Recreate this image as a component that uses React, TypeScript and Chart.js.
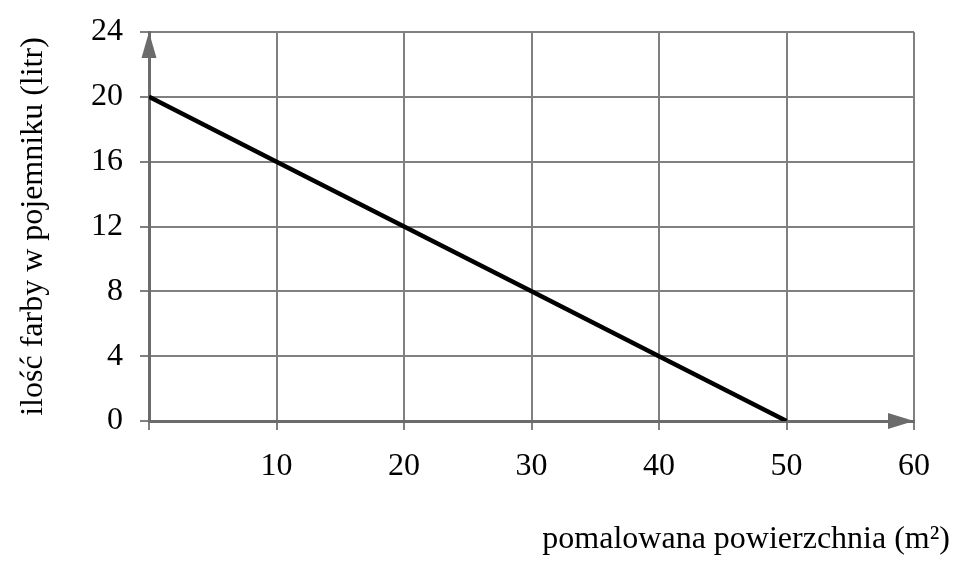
import React, { useEffect, useRef } from "react";
import { Chart, registerables } from "chart.js";

Chart.register(...registerables);

const areaValues = [0, 10, 20, 30, 40, 50];
const paintValues = [20, 16, 12, 8, 4, 0];
const xTitle = "pomalowana powierzchnia (m²)";
const yTitle = "ilość farby w pojemniku (litr)";

const FONT = "'Liberation Serif', 'Times New Roman', serif";
const GRID = "#808080";
const AXIS = "#6b6b6b";

const arrowPlugin = {
  id: "arrows",
  afterDraw(chart: any) {
    const { ctx, scales } = chart;
    const xs = scales.x;
    const ys = scales.y;
    const x0 = xs.getPixelForValue(xs.min);
    const x1 = xs.getPixelForValue(xs.max);
    const y0 = ys.getPixelForValue(ys.min);
    const y1 = ys.getPixelForValue(ys.max);
    ctx.save();
    ctx.fillStyle = AXIS;
    ctx.beginPath();
    ctx.moveTo(x0, y1);
    ctx.lineTo(x0 - 7.5, y1 + 26);
    ctx.lineTo(x0 + 7.5, y1 + 26);
    ctx.closePath();
    ctx.fill();
    ctx.beginPath();
    ctx.moveTo(x1, y0);
    ctx.lineTo(x1 - 26, y0 - 8);
    ctx.lineTo(x1 - 26, y0 + 8);
    ctx.closePath();
    ctx.fill();
    ctx.fillStyle = "#000";
    ctx.font = `32px ${FONT}`;
    ctx.textAlign = "right";
    ctx.textBaseline = "alphabetic";
    ctx.fillText(xTitle, 950, 548);
    ctx.restore();
  },
};

export default function App() {
  const ref = useRef<HTMLCanvasElement | null>(null);
  useEffect(() => {
    if (!ref.current) return;
    const chart = new Chart(ref.current, {
      type: "scatter",
      data: {
        datasets: [
          {
            data: areaValues.map((x, i) => ({ x, y: paintValues[i] })),
            showLine: true,
            borderColor: "#000",
            borderWidth: 4.5,
            pointRadius: 0,
            fill: false,
          },
        ],
      },
      options: {
        animation: false,
        responsive: true,
        maintainAspectRatio: false,
        layout: { padding: { left: 0, right: 46, top: 32, bottom: 0 } },
        plugins: { legend: { display: false }, tooltip: { enabled: false } },
        scales: {
          x: {
            type: "linear",
            min: 0,
            max: 60,
            ticks: {
              stepSize: 10,
              padding: 17,
              color: "#000",
              font: { family: FONT, size: 32 },
              callback: (v: any) => (v === 0 ? "" : String(v)),
              maxRotation: 0,
            },
            grid: { color: GRID, lineWidth: 2, tickLength: 9, tickColor: GRID },
            border: { color: AXIS, width: 3 },
            afterFit: (s: any) => {
              s.height = 155;
            },
          },
          y: {
            type: "linear",
            min: 0,
            max: 24,
            ticks: {
              stepSize: 4,
              padding: 17,
              color: "#000",
              font: { family: FONT, size: 32 },
            },
            grid: { color: GRID, lineWidth: 2, tickLength: 9, tickColor: GRID },
            border: { color: AXIS, width: 3 },
            title: {
              display: true,
              text: yTitle,
              color: "#000",
              font: { family: FONT, size: 32 },
              padding: { top: 14, bottom: 0 },
            },
            afterFit: (s: any) => {
              s.width = 149;
              s.paddingTop = 0;
              s.paddingBottom = 0;
            },
          },
        },
      },
      plugins: [arrowPlugin],
    });
    return () => chart.destroy();
  }, []);
  return (
    <div style={{ position: "absolute", left: 0, top: 0, width: 960, height: 576 }}>
      <canvas ref={ref} />
    </div>
  );
}
